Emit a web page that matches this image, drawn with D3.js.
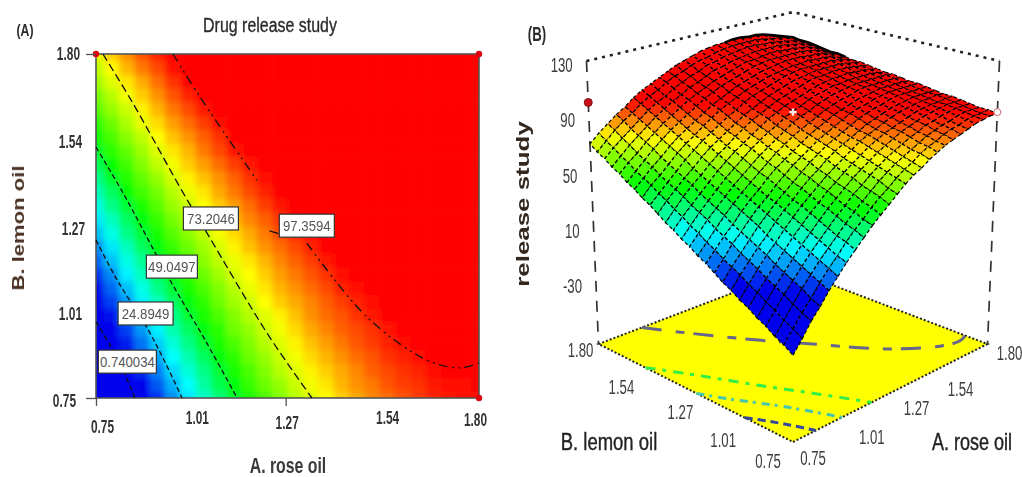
<!DOCTYPE html>
<html lang="en">
<head>
    <meta charset="UTF-8">
    <title>Drug release study</title>
    <script src="https://d3js.org/d3.v7.min.js" charset="utf-8"></script>
    <style>
        html, body { margin: 0; padding: 0; background: #fff; }
        svg { display: block; filter: blur(0.55px); }
        text { font-family: "Liberation Sans", sans-serif; }
    </style>
</head>
<body>
    <script>
        var width = 1022;
        var height = 477;

        // factor levels of the grid, rose oil (A) and lemon oil (B)
        var gridA = [0.75,0.792,0.834,0.876,0.918,0.96,1.002,1.044,1.086,1.128,1.17,1.212,1.254,1.296,1.338,1.38,1.422,1.464,1.506,1.548,1.59,1.632,1.674,1.716,1.758,1.8];
        var gridB = gridA.slice();

        // release: one row per gridB level (bottom to top), one value per gridA level
        var release = [
            [-16,-8,1,8,16,23,30,36,42,48,53,58,63,68,72,75,79,82,85,87,89,91,93,94,95,95],
            [-12,-4,4,11,19,26,32,39,45,50,56,61,65,70,74,77,81,84,86,89,91,92,94,95,95,96],
            [-9,-1,7,15,22,29,35,41,47,53,58,63,68,72,76,79,82,85,88,90,92,93,95,96,96,96],
            [-5,3,11,18,25,32,38,44,50,55,61,65,70,74,78,81,84,87,89,92,93,95,96,97,97,97],
            [-2,6,14,21,28,35,41,47,53,58,63,68,72,76,80,83,86,89,91,93,95,96,97,98,98,98],
            [2,10,17,24,31,38,44,50,55,61,65,70,74,78,82,85,88,90,92,94,96,97,98,98,99,99],
            [5,13,21,28,34,41,47,53,58,63,68,72,76,80,84,87,89,92,94,96,97,98,99,99,100,99],
            [9,17,24,31,37,44,50,55,61,66,70,75,79,82,85,88,91,93,95,97,98,99,100,100,100,100],
            [12,20,27,34,41,47,53,58,63,68,73,77,81,84,87,90,93,95,97,98,100,101,101,101,101,101],
            [16,23,31,37,44,50,55,61,66,71,75,79,83,86,89,92,95,97,98,100,101,102,102,102,102,102],
            [20,27,34,40,47,53,58,64,69,73,77,81,85,88,91,94,96,98,100,101,102,103,103,103,103,102],
            [23,30,37,44,50,56,61,66,71,76,80,84,87,90,93,96,98,100,101,103,104,104,104,104,104,103],
            [27,34,41,47,53,59,64,69,74,78,82,86,90,93,95,98,100,102,103,104,105,105,105,105,105,104],
            [30,37,44,50,56,62,67,72,77,81,85,88,92,95,97,100,102,103,105,105,106,106,106,106,105,104],
            [34,41,47,53,59,65,70,75,79,83,87,91,94,97,99,101,103,105,106,107,107,108,107,107,106,105],
            [37,44,51,57,62,68,73,77,82,86,90,93,96,99,101,103,105,107,108,108,109,109,109,108,107,106],
            [41,48,54,60,65,71,76,80,84,88,92,95,98,101,103,105,107,108,109,110,110,110,110,109,108,107],
            [45,51,57,63,69,74,79,83,87,91,94,98,101,103,105,107,109,110,111,111,111,111,111,110,109,107],
            [48,55,60,66,72,77,81,86,90,94,97,100,103,105,107,109,110,111,112,112,113,112,112,111,109,108],
            [52,58,64,69,75,80,84,88,92,96,99,102,105,107,109,111,112,113,114,114,114,113,113,112,110,109],
            [55,61,67,73,78,83,87,91,95,99,102,105,107,109,111,113,114,115,115,115,115,115,114,113,111,109],
            [59,65,70,76,81,86,90,94,98,101,104,107,109,111,113,115,115,116,117,117,116,116,115,114,112,110],
            [62,68,74,79,84,89,93,97,100,104,106,109,112,113,115,116,117,118,118,118,118,117,116,115,113,111],
            [66,72,77,82,87,92,96,99,103,106,109,111,114,115,117,118,119,120,120,119,119,118,117,116,114,112],
            [69,75,81,86,90,95,99,102,106,109,111,114,116,117,119,120,121,121,121,121,120,119,118,117,115,112],
            [73,79,84,89,93,98,102,105,108,111,114,116,118,120,121,122,122,123,123,122,122,121,119,117,115,113]
        ];

        // contour lines as [A, B] pairs (null = gap in the printed line)
        var contourLevels = ["0.740034", "24.8949", "49.0497", "73.2046", "97.3594"];
        var contourLines = [
            [[0.75,0.982],[0.788,0.912],[0.824,0.835],[0.857,0.75]],
            [[0.75,1.232],[0.808,1.11],[0.89,0.964],[0.939,0.86],[0.986,0.75]],
            [[0.75,1.516],[0.824,1.376],[0.953,1.11],[1.049,0.927],[1.137,0.75]],
            [[0.769,1.8],[0.851,1.65],[0.989,1.376],[1.054,1.254],[1.219,0.948],[1.342,0.75]],
            [[0.961,1.8],[1.035,1.669],[1.191,1.415],null,[1.328,1.223],[1.493,0.997],[1.657,0.866],[1.748,0.842],[1.8,0.857]]
        ];
        var contourStub = [[1.226,1.26],[1.25,1.252]];
        var contourLabelA = [0.836, 0.886, 0.958, 1.065, 1.328];
        var contourLabelB = [0.861, 1.008, 1.151, 1.298, 1.276];

        var ticksAB = [0.75, 1.01, 1.27, 1.54, 1.80];
        var ticksZ = [130, 90, 50, 10, -30];

        // design points
        var designA = [0.75, 1.8, 1.8];
        var designB = [1.8, 1.8, 0.75];
        var designZ = [103, 98, 96];
        var centerPoint = [1.275, 1.275, 96];

        var svg = d3.select("body").append("svg")
            .attr("width", width)
            .attr("height", height);

        var defs = svg.append("defs");
        defs.append("clipPath").attr("id", "plotClip").append("rect")
            .attr("x", 96).attr("y", 54).attr("width", 383).attr("height", 344);
        defs.append("filter").attr("id", "soft")
            .attr("x", "-5%").attr("y", "-5%").attr("width", "110%").attr("height", "110%")
            .append("feGaussianBlur").attr("stdDeviation", 3);

        var rainbow = ["#0000ec", "#00ffff", "#00ff00", "#ffff00", "#ff0000"];
        var color = d3.scaleLinear()
            .domain([12, 32, 51, 75, 96])
            .range(rainbow)
            .clamp(true);
        var surfaceColor = d3.scaleLinear()
            .domain([12, 34, 55, 78, 96])
            .range(rainbow)
            .clamp(true);

        // ---- panel A ----
        var x = d3.scaleLinear().domain([0.75, 1.8]).range([96, 479]);
        var y = d3.scaleLinear().domain([0.75, 1.8]).range([398, 54]);
        var cellW = x(gridA[1]) - x(gridA[0]);
        var cellH = y(gridB[0]) - y(gridB[1]);

        var cells = [];
        release.forEach(function(row, j) {
            row.forEach(function(v, i) {
                cells.push({a: gridA[i], b: gridB[j], v: v});
            });
        });

        var heat = svg.append("g").attr("clip-path", "url(#plotClip)")
            .append("g").attr("filter", "url(#soft)");
        heat.selectAll("rect")
            .data(cells)
            .enter()
            .append("rect")
            .attr("x", function(d) { return x(d.a) - cellW / 2; })
            .attr("y", function(d) { return y(d.b) - cellH / 2; })
            .attr("width", cellW + 0.5)
            .attr("height", cellH + 0.5)
            .attr("fill", function(d) { return color(d.v); });

        svg.append("rect")
            .attr("x", 96).attr("y", 54).attr("width", 383).attr("height", 344)
            .attr("fill", "none").attr("stroke", "#555").attr("stroke-width", 1.6);

        var contourDash = ["5,3", "5,3", "5,3", "8,4", "9,5,2,4,2,4"];
        var line2d = d3.line()
            .defined(function(d) { return d; })
            .x(function(d) { return x(d[0]); })
            .y(function(d) { return y(d[1]); })
            .curve(d3.curveCatmullRom);

        svg.selectAll("path.contour")
            .data(contourLines.concat([contourStub]))
            .enter()
            .append("path")
            .attr("class", "contour")
            .attr("fill", "none")
            .attr("stroke", "#111")
            .attr("stroke-width", 1.3)
            .attr("stroke-dasharray", function(d, i) { return contourDash[i] || null; })
            .attr("d", line2d);

        contourLevels.forEach(function(txt, i) {
            var g = svg.append("g")
                .attr("transform", "translate(" + x(contourLabelA[i]) + "," + y(contourLabelB[i]) + ")");
            var w = i == 0 ? 58 : (i == 2 ? 51 : 55);
            g.append("rect")
                .attr("x", -w / 2).attr("y", -11.5).attr("width", w).attr("height", 23)
                .attr("fill", "#fff").attr("stroke", "#333").attr("stroke-width", 1.2);
            g.append("text")
                .attr("text-anchor", "middle")
                .attr("transform", "translate(0,5.5) scale(0.88,1)")
                .attr("font-size", 15).attr("fill", "#555")
                .text(txt);
        });

        svg.selectAll("circle.design")
            .data(designA)
            .enter()
            .append("circle")
            .attr("class", "design")
            .attr("cx", function(d) { return x(d); })
            .attr("cy", function(d, i) { return y(designB[i]); })
            .attr("r", 3.2)
            .attr("fill", "#e00010");

        // axes
        var axisBottom = d3.axisBottom(x).tickValues(ticksAB).tickSize(8).tickFormat(d3.format(".2f"));
        var axisLeft = d3.axisLeft(y).tickValues(ticksAB).tickSize(10).tickFormat(d3.format(".2f"));
        var gx = svg.append("g").attr("transform", "translate(0,398)").call(axisBottom);
        var gy = svg.append("g").attr("transform", "translate(96,0)").call(axisLeft);
        gx.select(".domain").remove();
        gy.select(".domain").remove();
        gx.selectAll("line").attr("stroke", "#555").attr("stroke-width", 1.3)
            .attr("opacity", function(d) { return d == 0.75 || d == 1.27 ? 1 : 0; });
        gy.selectAll("line").attr("stroke", "#555").attr("stroke-width", 1.3)
            .attr("opacity", function(d) { return d == 0.75 || d == 1.8 ? 1 : 0; });

        var xNudge = [6, 6, 1, 3, -4];
        var xRow = [35, 26, 31, 26, 28];
        gx.selectAll("text")
            .attr("font-family", null).attr("font-size", 18).attr("font-weight", "bold").attr("fill", "#333")
            .attr("y", 0).attr("dy", null)
            .attr("transform", function(d, i) { return "translate(" + xNudge[i] + "," + xRow[i] + ") scale(0.66,1)"; });
        var yEnd = [-16, -14, -11, -14, -20];
        var yDrop = [0, 3, 1, 1, 3];
        gy.selectAll("text")
            .attr("font-family", null).attr("font-size", 18).attr("font-weight", "bold").attr("fill", "#333")
            .attr("x", 0)
            .attr("transform", function(d, i) { return "translate(" + yEnd[4 - i] + "," + yDrop[4 - i] + ") scale(0.66,1)"; });

        function label(px, py, txt, size, opts) {
            opts = opts || {};
            return svg.append("text")
                .attr("transform", "translate(" + px + "," + py + ")" + (opts.rotate ? " rotate(" + opts.rotate + ")" : "") + " scale(" + (opts.sx || 1) + ",1)")
                .attr("text-anchor", opts.anchor || "middle")
                .attr("font-size", size)
                .attr("font-weight", opts.weight || "normal")
                .attr("fill", opts.fill || "#2a2a2a")
                .text(txt);
        }

        label(25, 36, "(A)", 17, {weight: "bold", sx: 0.72});
        label(270, 32, "Drug release study", 21, {sx: 0.76}).attr("stroke", "#2a2a2a").attr("stroke-width", 0.35);
        label(288, 473, "A. rose oil", 22, {weight: "bold", fill: "#3a3a3a", sx: 0.72});
        label(24, 228, "B. lemon oil", 17, {rotate: -90, weight: "bold", fill: "#4a3325", sx: 1.3});

        // ---- panel B ----
        var zHeight = d3.scaleLinear().domain([-72, 133]).range([0, 1]);
        var unit = d3.scaleLinear().domain([0.75, 1.8]).range([0, 1]);

        function project(a, b, z) {
            var u = unit(a), v = unit(b);
            var l = u - v, d = (u + v) / 2, h = zHeight(z);
            var fx = 793 + l * 226 / (1 + 0.324 * d);
            var fy = (442 - 84.5 * d) / (1 + 0.324 * d);
            var tx = 793 + l * 237.5 / (1 + 0.3 * d);
            var ty = (124.7 - 109 * d) / (1 + 0.3 * d);
            return [fx + (tx - fx) * h, fy + (ty - fy) * h];
        }

        var floorZ = zHeight.domain()[0];
        var topZ = zHeight.domain()[1];
        var poly = d3.line();

        // floor
        var corners = [[0.75, 0.75], [1.8, 0.75], [1.8, 1.8], [0.75, 1.8]];
        svg.append("path")
            .attr("d", poly(corners.map(function(c) { return project(c[0], c[1], floorZ); })) + "Z")
            .attr("fill", "#ffff00")
            .attr("stroke", "#222")
            .attr("stroke-width", 2)
            .attr("stroke-dasharray", "2,2");

        var floorColors = ["#34479c", "#45c4ae", "#33ee44", "none", "#66668c"];
        var lineFloor = d3.line()
            .x(function(d) { return project(d[0], d[1], floorZ)[0]; })
            .y(function(d) { return project(d[0], d[1], floorZ)[1]; })
            .curve(d3.curveCatmullRom);
        var floorDash = ["8,5", "8,5,3,6", "10,7,4,7", "none", "20,14,9,9"];
        svg.selectAll("path.floorline")
            .data(contourLines)
            .enter()
            .append("path")
            .attr("class", "floorline")
            .attr("fill", "none")
            .attr("stroke", function(d, i) { return floorColors[i]; })
            .attr("stroke-width", 3)
            .attr("stroke-dasharray", function(d, i) { return floorDash[i]; })
            .attr("d", function(d) { return lineFloor(d.filter(Boolean)); });

        // box edges
        var boxTop = [[0.75, 1.8], [1.8, 1.8], [1.8, 0.75]].map(function(c) { return project(c[0], c[1], topZ); });
        svg.append("path")
            .attr("d", poly(boxTop))
            .attr("fill", "none").attr("stroke", "#222").attr("stroke-width", 2.6).attr("stroke-dasharray", "3,5");

        [[0.75, 1.8], [1.8, 0.75]].forEach(function(c) {
            svg.append("path")
                .attr("d", poly([project(c[0], c[1], topZ), project(c[0], c[1], floorZ)]))
                .attr("stroke", "#333").attr("stroke-width", 1.7).attr("stroke-dasharray", "11,9").attr("fill", "none");
        });

        // surface quads, drawn back to front
        var quads = [];
        for (var j = 0; j < gridB.length - 1; j++) {
            for (var i = 0; i < gridA.length - 1; i++) {
                quads.push({
                    depth: i + j,
                    z: (release[j][i] + release[j][i + 1] + release[j + 1][i] + release[j + 1][i + 1]) / 4,
                    pts: [
                        project(gridA[i], gridB[j], release[j][i]),
                        project(gridA[i + 1], gridB[j], release[j][i + 1]),
                        project(gridA[i + 1], gridB[j + 1], release[j + 1][i + 1]),
                        project(gridA[i], gridB[j + 1], release[j + 1][i])
                    ]
                });
            }
        }
        quads.sort(function(p, q) { return q.depth - p.depth; });

        svg.append("g").selectAll("path")
            .data(quads)
            .enter()
            .append("path")
            .attr("d", function(d) { return poly(d.pts) + "Z"; })
            .attr("fill", function(d) { return surfaceColor(d.z); })
            .attr("stroke", "#000")
            .attr("stroke-width", 1.2)
            .attr("stroke-dasharray", "3.5,2.5");

        // heavy dark rim along the far edge where the mesh bunches up
        var rim = [];
        gridA.forEach(function(a, i) { if (i >= 16) rim.push(project(a, 1.8, release[25][i])); });
        for (var k = 24; k >= 18; k--) rim.push(project(1.8, gridB[k], release[k][25]));
        svg.append("path")
            .attr("d", poly(rim))
            .attr("fill", "none").attr("stroke", "#000").attr("stroke-width", 2.6);

        // design points on the surface
        designA.forEach(function(a, i) {
            if (i == 1) return;
            var p = project(a, designB[i], designZ[i]);
            svg.append("circle")
                .attr("cx", p[0]).attr("cy", p[1]).attr("r", i == 0 ? 4 : 3.5)
                .attr("fill", i == 0 ? "#c8101c" : "#fff")
                .attr("stroke", i == 0 ? "#7a1010" : "#c86a6a");
        });
        var cp = project(centerPoint[0], centerPoint[1], centerPoint[2]);
        svg.append("path")
            .attr("transform", "translate(" + cp[0] + "," + cp[1] + ")")
            .attr("d", d3.symbol().type(d3.symbolCross).size(30))
            .attr("fill", "#ffe6e6");

        // z ticks
        ticksZ.forEach(function(z) {
            var p = project(0.75, 1.8, z);
            label(p[0] - 14, p[1] + 7, z, 20, {anchor: "end", fill: "#3c3c3c", sx: 0.66});
        });

        // floor ticks
        var bNudge = [[-25, 26], [-16, 32], [-9, 29], [-20, 28], [-18, 13]];
        var aNudge = [[20, 23], [25, 29], [20, 25], [16, 30], [22, 16]];
        ticksAB.forEach(function(t, i) {
            var pb = project(0.75, t, floorZ);
            label(pb[0] + bNudge[i][0], pb[1] + bNudge[i][1], d3.format(".2f")(t), 20, {fill: "#3c3c3c", sx: 0.66});
            var pa = project(t, 0.75, floorZ);
            label(pa[0] + aNudge[i][0], pa[1] + aNudge[i][1], d3.format(".2f")(t), 20, {fill: "#3c3c3c", sx: 0.66});
        });

        label(537, 41, "(B)", 20, {weight: "bold", sx: 0.66});
        label(609, 450, "B. lemon oil", 24, {fill: "#222", sx: 0.77}).attr("stroke", "#222").attr("stroke-width", 0.4);
        label(972, 450, "A. rose oil", 24, {fill: "#222", sx: 0.75}).attr("stroke", "#222").attr("stroke-width", 0.4);
        label(529, 204, "release study", 18, {rotate: -90, weight: "bold", fill: "#33281f", sx: 1.44});
    </script>
</body>
</html>
